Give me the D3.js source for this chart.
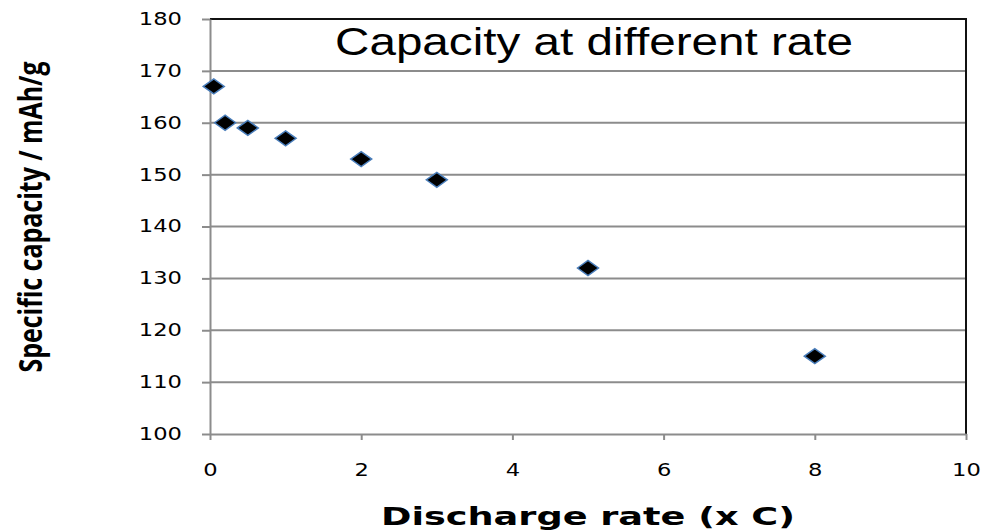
<!DOCTYPE html>
<html>
<head>
<meta charset="utf-8">
<script src="https://cdn.jsdelivr.net/npm/d3@7"></script>
<style>
  body { margin: 0; background: #fff; }
  #chart1 { width: 984px; height: 532px; }
</style>
</head>
<body>
<div id="chart1"></div>
<script>
// Capacity vs discharge rate (Excel style scatter)

const rates = [0.05, 0.2, 0.5, 1, 2, 3, 5, 8];
const capacities = [167, 160, 159, 157, 153, 149, 132, 115];
const xTicks = [0, 2, 4, 6, 8, 10];
const yTicks = [100, 110, 120, 130, 140, 150, 160, 170, 180];

const chartTitle = "Capacity at different rate";
const xTitle = "Discharge rate (x C)";
const yTitle = "Specific capacity / mAh/g";

// the source picture is stretched sideways, so is the text
const stretch = 1.28;

function stretchText(sel, k) {
    sel.each(function () {
        const len = this.getComputedTextLength();
        d3.select(this)
            .attr("textLength", len * k)
            .attr("lengthAdjust", "spacingAndGlyphs");
    });
}

function renderChart() {
    const width = 984, height = 532;
    const margin = { top: 19, right: 18, bottom: 98, left: 210 };
    const innerWidth = width - margin.left - margin.right;
    const innerHeight = height - margin.top - margin.bottom;

    const svg = d3.select("#chart1")
        .append("svg")
        .attr("width", width)
        .attr("height", height);

    const g = svg.append("g")
        .attr("transform", `translate(${margin.left},${margin.top})`);

    const x = d3.scaleLinear().domain([0, 10]).range([0, innerWidth]);
    const y = d3.scaleLinear().domain([100, 180]).range([innerHeight, 0]);

    // gridlines
    g.append("g")
        .selectAll("line")
        .data(yTicks.filter(d => d > 100 && d < 180))
        .enter()
        .append("line")
        .attr("x1", 0)
        .attr("x2", innerWidth)
        .attr("y1", d => y(d))
        .attr("y2", d => y(d))
        .attr("stroke", "#8c8c8c")
        .attr("stroke-width", 2);

    // top and right border
    g.append("path")
        .attr("d", `M0,${y(180)}H${innerWidth}V${innerHeight}`)
        .attr("fill", "none")
        .attr("stroke", "#111")
        .attr("stroke-width", 2);

    // axes
    const xAxis = g.append("g")
        .attr("transform", `translate(0,${innerHeight})`)
        .call(d3.axisBottom(x).tickValues(xTicks).tickSize(6).tickPadding(24).tickSizeOuter(0));

    const yAxis = g.append("g")
        .call(d3.axisLeft(y).tickValues(yTicks).tickSize(8).tickPadding(20).tickSizeOuter(0));

    [xAxis, yAxis].forEach(ax => {
        ax.select(".domain").attr("stroke", "#8c8c8c").attr("stroke-width", 2);
        ax.selectAll(".tick line").attr("stroke", "#8c8c8c").attr("stroke-width", 2);
        ax.selectAll("text")
            .attr("fill", "#000")
            .attr("font-family", "DejaVu Sans, Verdana, sans-serif")
            .attr("font-size", "17px");
        stretchText(ax.selectAll("text"), 1.33);
    });

    // markers: diamonds, wider than tall
    const hw = 10.5, hh = 7.5;
    g.selectAll("path.pt")
        .data(rates.map((r, i) => ({ rate: r, cap: capacities[i] })))
        .enter()
        .append("path")
        .attr("class", "pt")
        .attr("d", d => {
            const cx = x(d.rate), cy = y(d.cap);
            return `M${cx - hw},${cy}L${cx},${cy - hh}L${cx + hw},${cy}L${cx},${cy + hh}Z`;
        })
        .attr("fill", "#000")
        .attr("stroke", "#4a7ebb")
        .attr("stroke-width", 1.5);

    // chart title
    const t = svg.append("text")
        .attr("x", 594)
        .attr("y", 55)
        .attr("text-anchor", "middle")
        .attr("font-family", "Liberation Sans, Arial, sans-serif")
        .attr("font-size", "38px")
        .attr("fill", "#000")
        .text(chartTitle);
    t.attr("textLength", 518).attr("lengthAdjust", "spacingAndGlyphs");

    // x axis title
    const xt = svg.append("text")
        .attr("x", 588)
        .attr("y", 525)
        .attr("text-anchor", "middle")
        .attr("font-family", "DejaVu Sans, Verdana, sans-serif")
        .attr("font-weight", "bold")
        .attr("font-size", "24px")
        .attr("fill", "#000")
        .text(xTitle);
    xt.attr("textLength", 414).attr("lengthAdjust", "spacingAndGlyphs");

    // y axis title
    svg.append("text")
        .attr("transform", `translate(42,217) rotate(-90) scale(1,${stretch})`)
        .attr("text-anchor", "middle")
        .attr("font-family", "Open Sans, sans-serif")
        .attr("font-weight", "bold")
        .attr("font-size", "25px")
        .attr("fill", "#000")
        .attr("textLength", 311)
        .attr("lengthAdjust", "spacingAndGlyphs")
        .text(yTitle);
}

renderChart();
</script>
</body>
</html>
